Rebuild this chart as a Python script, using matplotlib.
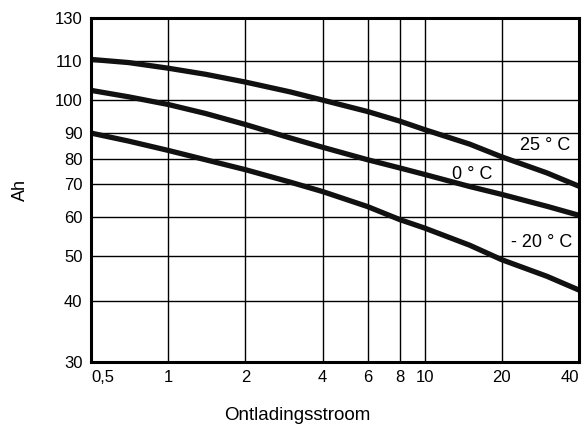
import numpy as np
import matplotlib
matplotlib.use("Agg")
import matplotlib.pyplot as plt

# discharge current (x) and capacity in Ah per temperature
current = [0.5, 0.7, 1, 1.4, 2, 3, 4, 6, 8, 10, 15, 20, 30, 40]
ah_25 = [110.7, 109.6, 108.1, 106.5, 104.5, 102.0, 100.0, 96.4, 93.5, 91.0,
         85.6, 80.8, 74.3, 69.3]
ah_0 = [102.4, 100.8, 98.6, 95.8, 92.5, 88.0, 84.4, 79.7, 76.3, 73.7,
        69.2, 66.7, 63.1, 60.5]
ah_m20 = [90.0, 86.8, 83.2, 79.7, 75.6, 70.7, 67.6, 63.0, 59.3, 57.0,
          52.6, 49.1, 45.2, 42.2]

x_ticks = [0.5, 1, 2, 4, 6, 8, 10, 20, 40]
x_labels = ["0,5", "1", "2", "4", "6", "8", "10", "20", "40"]
y_ticks = [30, 40, 50, 60, 70, 80, 90, 100, 110, 130]
# the printed y grid is not a clean log grid, so follow its spacing
y_grid_pos = [0, 61.3, 106, 145, 178, 203, 229, 262, 301, 344]

labels = ["25 ° C", "0 ° C", "- 20 ° C"]
label_x = [29.4, 15.4, 28.5]
label_y = [85.0, 73.6, 53.3]

plt.rcParams["font.family"] = ["Liberation Sans", "DejaVu Sans"]

logt = np.log10(y_ticks)


def fwd(v):
    v = np.clip(np.asarray(v, dtype=float), 1e-6, None)
    return np.interp(np.log10(v), logt, y_grid_pos)


def inv(p):
    return 10 ** np.interp(p, y_grid_pos, logt)


fig = plt.figure(figsize=(5.83, 4.30), dpi=100)
ax = fig.add_axes([0.156, 0.158, 0.837, 0.800])

ax.set_xscale("log")
ax.set_yscale("function", functions=(fwd, inv))
ax.set_xlim(0.5, 40)
ax.set_ylim(30, 130)

ax.set_xticks(x_ticks)
ax.set_xticklabels(x_labels)
ax.xaxis.set_minor_locator(matplotlib.ticker.NullLocator())
ax.set_yticks(y_ticks)
ax.set_yticklabels([str(v) for v in y_ticks])
ax.yaxis.set_minor_locator(matplotlib.ticker.NullLocator())
ax.tick_params(length=0, labelsize=12, pad=6)
xl = ax.get_xticklabels()
xl[0].set_ha("left")
xl[-1].set_ha("right")

ax.grid(True, color="black", linewidth=1.0)
ax.set_axisbelow(True)
for s in ax.spines.values():
    s.set_linewidth(2.2)

for ys in (ah_25, ah_0, ah_m20):
    ax.plot(current, ys, color="#111111", linewidth=3.8,
            solid_capstyle="butt", solid_joinstyle="round")

for t, lx, ly in zip(labels, label_x, label_y):
    ax.text(lx, ly, t, fontsize=13, ha="center", va="center")

ax.set_xlabel("Ontladingsstroom", fontsize=13.5)
ax.set_ylabel("Ah", fontsize=13)
ax.xaxis.set_label_coords((297 - 91) / 488, -(415 - 362) / 344)
ax.yaxis.set_label_coords(-(91 - 21) / 488, (362 - 190) / 344)
ax.xaxis.label.set_va("center")
ax.yaxis.label.set_va("center")

fig.savefig("out.png", dpi=100)
